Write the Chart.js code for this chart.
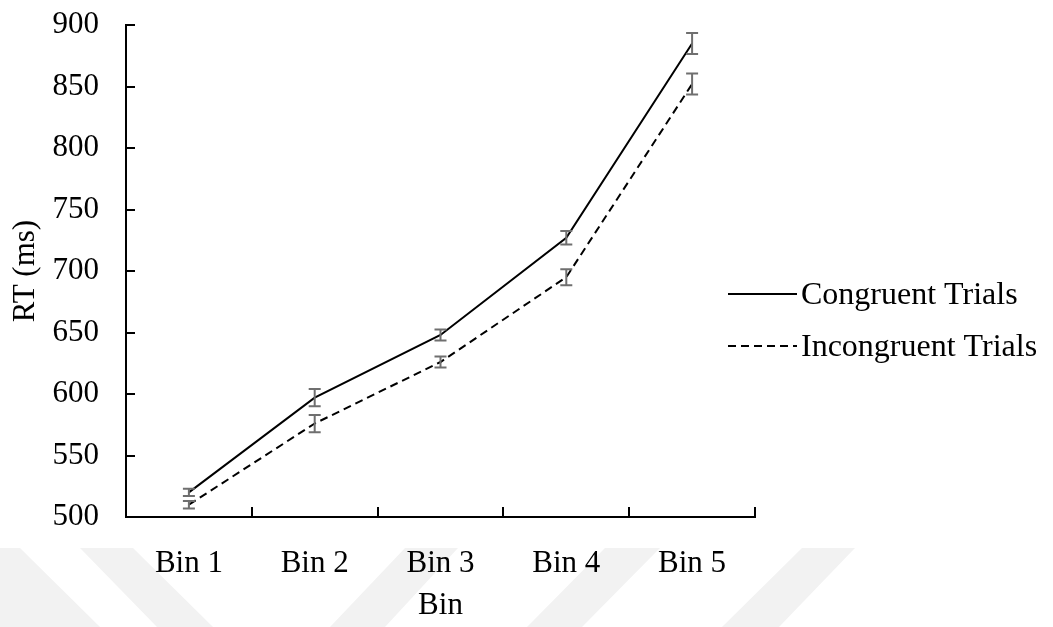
<!DOCTYPE html>
<html lang="en">
<head>
<meta charset="UTF-8">
<title>RT by Bin</title>
<script src="https://cdn.jsdelivr.net/npm/chart.js"></script>
<style>
  html, body { margin: 0; padding: 0; background: #fff; }
  #wrap { width: 1053px; height: 627px; position: relative; }
</style>
</head>
<body>
<div id="wrap"><canvas id="myChart"></canvas></div>
<script>
const bins = ["Bin 1", "Bin 2", "Bin 3", "Bin 4", "Bin 5"];
const congruent = [520, 597, 648, 727, 885];
const incongruent = [510, 576, 626, 695, 852];
const congruentErr = [3, 7, 4.5, 5.5, 8.5];
const incongruentErr = [3, 7, 4.5, 6.5, 8.5];
const yTicks = [500, 550, 600, 650, 700, 750, 800, 850, 900];

const serif = "'Liberation Serif', 'Times New Roman', serif";

// faint diagonal watermark at the bottom of the picture
const watermark = {
    id: "watermark",
    beforeDraw(chart) {
        const ctx = chart.ctx;
        const top = 548, bottom = chart.height;
        const bands = [[-80, 20, -10, 100], [80, 133, 157, 213], [405, 458, 330, 385], [605, 660, 527, 582], [802, 855, 722, 779]];
        ctx.save();
        ctx.fillStyle = "#f2f2f2";
        bands.forEach(b => {
            ctx.beginPath();
            ctx.moveTo(b[0], top);
            ctx.lineTo(b[1], top);
            ctx.lineTo(b[3], bottom);
            ctx.lineTo(b[2], bottom);
            ctx.closePath();
            ctx.fill();
        });
        ctx.restore();
    }
};

// tick marks pointing into the plot, like the original
const innerTicks = {
    id: "innerTicks",
    afterDraw(chart) {
        const ctx = chart.ctx;
        const x = chart.scales.x, y = chart.scales.y;
        ctx.save();
        ctx.strokeStyle = "#000";
        ctx.lineWidth = 2;
        ctx.beginPath();
        for (let i = 0; i <= bins.length; i++) {
            const px = Math.round(x.getPixelForValue(i - 0.5));
            ctx.moveTo(px, y.bottom);
            ctx.lineTo(px, y.bottom - 10);
        }
        yTicks.slice(1).forEach(v => {
            const py = Math.round(y.getPixelForValue(v));
            ctx.moveTo(x.left, py);
            ctx.lineTo(x.left + 9, py);
        });
        ctx.stroke();
        ctx.restore();
    }
};

const errorBars = {
    id: "errorBars",
    afterDatasetsDraw(chart) {
        const ctx = chart.ctx;
        const x = chart.scales.x, y = chart.scales.y;
        const errs = [congruentErr, incongruentErr];
        ctx.save();
        ctx.strokeStyle = "#6f6f6f";
        ctx.lineWidth = 2;
        chart.data.datasets.forEach((ds, d) => {
            ds.data.forEach((v, i) => {
                const px = x.getPixelForValue(i);
                const hi = y.getPixelForValue(v + errs[d][i]);
                const lo = y.getPixelForValue(v - errs[d][i]);
                ctx.beginPath();
                ctx.moveTo(px, hi); ctx.lineTo(px, lo);
                ctx.moveTo(px - 6, hi); ctx.lineTo(px + 6, hi);
                ctx.moveTo(px - 6, lo); ctx.lineTo(px + 6, lo);
                ctx.stroke();
            });
        });
        ctx.restore();
    }
};

// legend sitting to the right of the plot
const sideLegend = {
    id: "sideLegend",
    afterDraw(chart) {
        const ctx = chart.ctx;
        const area = chart.chartArea;
        ctx.save();
        ctx.font = "32px " + serif;
        ctx.fillStyle = "#000";
        ctx.textBaseline = "middle";
        chart.data.datasets.forEach((ds, i) => {
            const cy = 294 + i * 52;
            const x0 = area.right - 27;
            ctx.strokeStyle = ds.borderColor;
            ctx.lineWidth = 2;
            ctx.setLineDash(ds.borderDash || []);
            ctx.beginPath();
            ctx.moveTo(x0, cy);
            ctx.lineTo(x0 + 69, cy);
            ctx.stroke();
            ctx.fillText(ds.label, x0 + 73, cy + 2);
        });
        ctx.restore();
    }
};

new Chart(document.getElementById("myChart"), {
    type: "line",
    data: {
        labels: bins,
        datasets: [
            { label: "Congruent Trials", data: congruent, borderColor: "#000", borderWidth: 2, pointRadius: 0, tension: 0 },
            { label: "Incongruent Trials", data: incongruent, borderColor: "#000", borderWidth: 2, borderDash: [8, 5], pointRadius: 0, tension: 0 }
        ]
    },
    options: {
        responsive: true,
        maintainAspectRatio: false,
        animation: false,
        layout: { padding: { top: 25, right: 298, bottom: 0, left: 0 } },
        plugins: { legend: { display: false }, tooltip: { enabled: false } },
        scales: {
            x: {
                offset: true,
                grid: { display: false, drawTicks: false },
                border: { display: true, color: "#000", width: 2 },
                ticks: { color: "#000", font: { family: serif, size: 31 }, padding: 28, maxRotation: 0 },
                title: { display: true, text: "Bin", color: "#000", font: { family: serif, size: 31 }, padding: { top: 0, bottom: 3 } },
                afterFit(scale) { scale.height = 110; }
            },
            y: {
                min: 500,
                max: 900,
                afterBuildTicks(scale) { scale.ticks = yTicks.map(v => ({ value: v })); },
                // invisible tick marks only push the labels away from the axis
                grid: { display: true, drawOnChartArea: false, drawTicks: true, tickLength: 27, tickColor: "rgba(0,0,0,0)" },
                border: { display: true, color: "#000", width: 2 },
                ticks: { color: "#000", font: { family: serif, size: 31 }, padding: 0 },
                title: { display: true, text: "RT (ms)", color: "#000", font: { family: serif, size: 31 }, padding: { top: 7, bottom: 0 } },
                afterFit(scale) { scale.width = 126; }
            }
        }
    },
    plugins: [watermark, innerTicks, errorBars, sideLegend]
});
</script>
</body>
</html>
